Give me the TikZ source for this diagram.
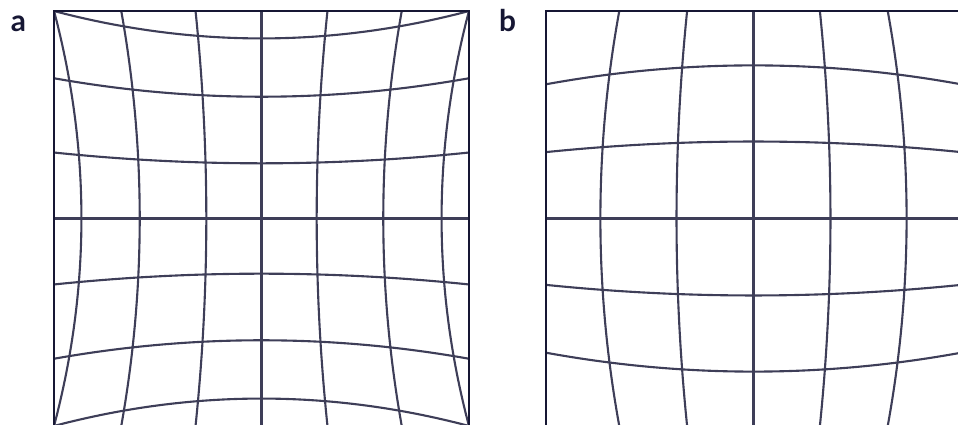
\documentclass[tikz,border=0pt]{standalone}
\usepackage{fontspec}
\newfontfamily\panelfont{Lato}
\definecolor{gridink}{RGB}{62,62,88}
\definecolor{frameink}{RGB}{22,23,52}
\tikzset{
  gridline/.style={gridink, line width=1.2pt},
  frameline/.style={frameink, line width=1.5pt},
  panellabel/.style={font=\panelfont\bfseries\fontsize{17}{17}\selectfont, anchor=base, inner sep=0pt, text=frameink},
}

\begin{document}
\begin{tikzpicture}[x=0.02cm, y=-0.02cm]
    \useasboundingbox (0,0) rectangle (958,425);
    \node[panellabel] (la) at (18.5,32) {a};
    \node[panellabel] (lb) at (507.5,32) {b};
    % a: pincushion
    \begin{scope}[shift={(261.5,218.5)}, x=4.15cm, y=4.15cm]
      \begin{scope}
        \clip (-1,-1) rectangle (1,1);
        \foreach \ev/\cv in {1/0.868, 0.676/0.587, 0.318/0.266, 0/0, -0.318/-0.266, -0.676/-0.587, -1/-0.868} {
          \draw[gridline] plot[domain=-1.1:1.1, samples=41, smooth] (\x, {\cv+(\ev-\cv)*\x*\x});
          \draw[gridline] plot[domain=-1.1:1.1, samples=41, smooth] ({\cv+(\ev-\cv)*\x*\x}, \x);
        }
      \end{scope}
      \draw[frameline] (-1,-1) rectangle (1,1);
    \end{scope}
    % b: barrel
    \begin{scope}[shift={(753.5,218.5)}, x=4.15cm, y=4.15cm]
      \begin{scope}
        \clip (-1,-1) rectangle (1,1);
        \foreach \ev/\cv in {0.647/0.738, 0.320/0.371, 0/0, -0.320/-0.371, -0.647/-0.738} {
          \draw[gridline] plot[domain=-1.1:1.1, samples=41, smooth] (\x, {\cv+(\ev-\cv)*\x*\x});
          \draw[gridline] plot[domain=-1.1:1.1, samples=41, smooth] ({\cv+(\ev-\cv)*\x*\x}, \x);
        }
      \end{scope}
      \draw[frameline] (-1,-1) rectangle (1,1);
    \end{scope}
  \end{tikzpicture}
\end{document}
